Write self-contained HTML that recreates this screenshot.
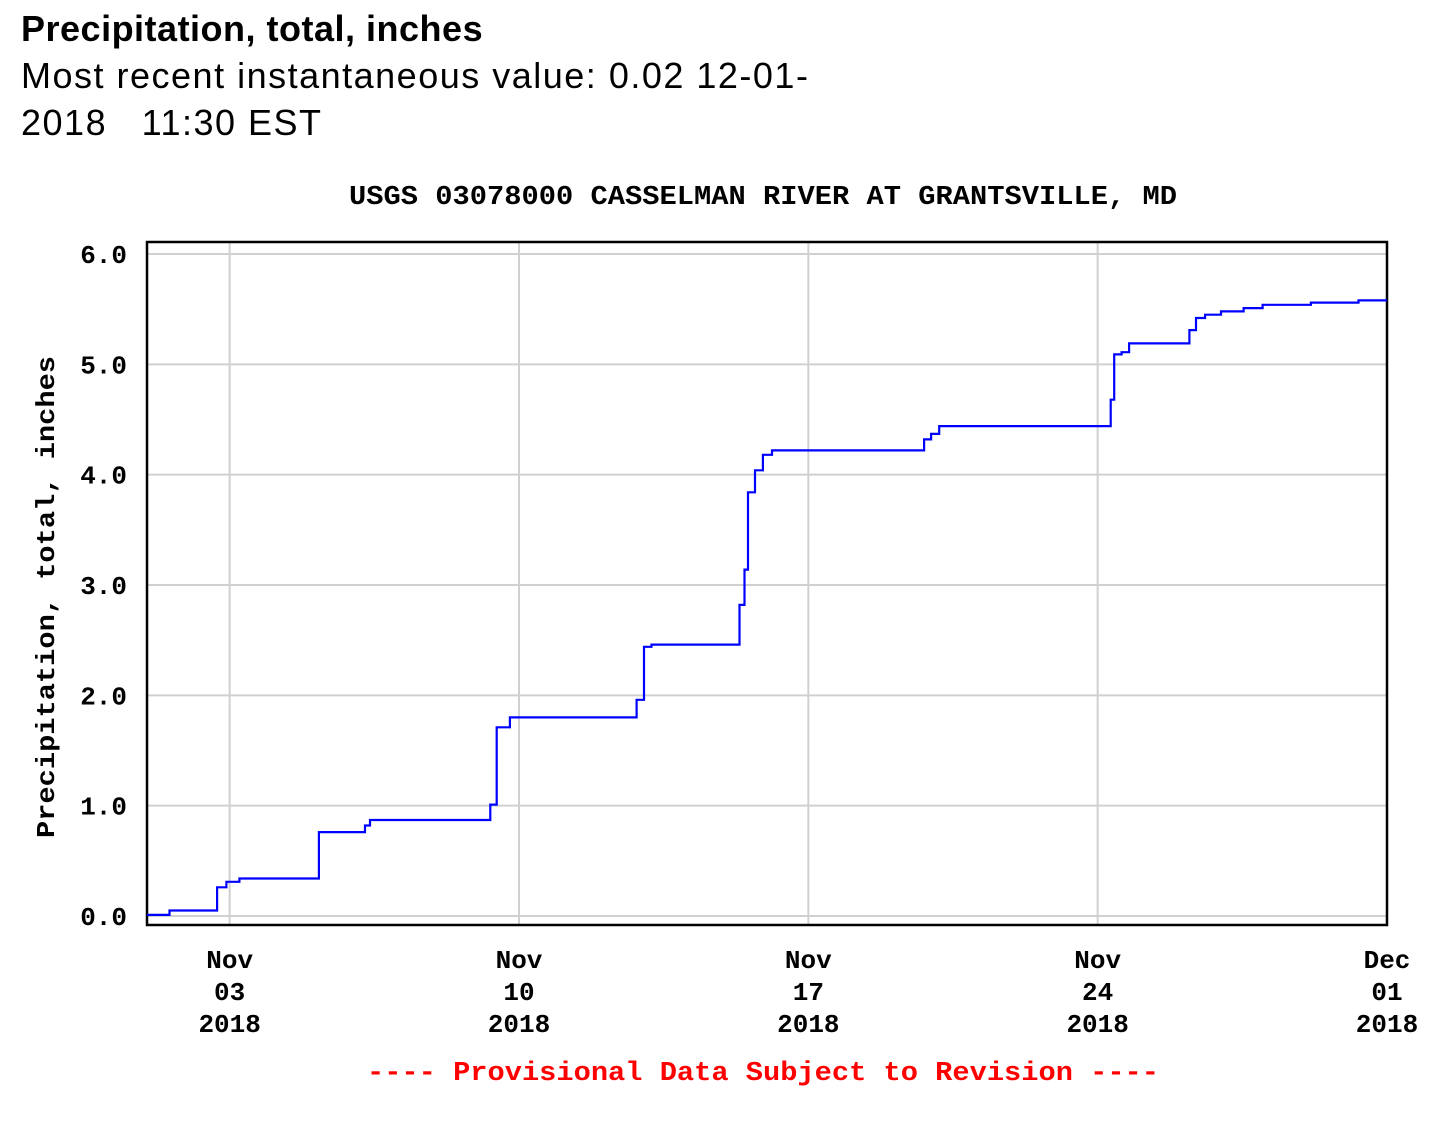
<!DOCTYPE html>
<html><head><meta charset="utf-8">
<style>
html,body{margin:0;padding:0;background:#fff;width:1437px;height:1135px;overflow:hidden}
.hdr{position:absolute;left:21px;font-family:"Liberation Sans",sans-serif;color:#000;font-size:36px;line-height:47px}
</style></head><body>
<div class="hdr" style="top:5px;font-weight:bold;letter-spacing:0.5px">Precipitation, total, inches</div>
<div class="hdr" style="top:52px;letter-spacing:1.5px">Most recent instantaneous value: 0.02 12-01-<br>2018 &nbsp; 11:30 EST</div>
<svg id="chart" width="1437" height="1135" style="position:absolute;left:0;top:0">
<g font-family="Liberation Mono, monospace" font-weight="bold">
<text x="763" y="204" font-size="27" text-anchor="middle" textLength="828" lengthAdjust="spacingAndGlyphs">USGS 03078000 CASSELMAN RIVER AT GRANTSVILLE, MD</text>
<text transform="translate(54,597) rotate(-90)" font-size="26" text-anchor="middle" textLength="482" lengthAdjust="spacingAndGlyphs">Precipitation, total, inches</text>
<text x="763" y="1080" font-size="27" fill="#ff0000" text-anchor="middle" textLength="792" lengthAdjust="spacingAndGlyphs">---- Provisional Data Subject to Revision ----</text>
</g>
<g id="grid"></g><g id="axes"></g><g id="series"></g>
</svg>
<script>
const days=[0,1.09,1.65,1.74,2.1,2.37,4.06,4.26,5.2,5.35,5.44,8.23,8.38,8.54,9.02,11.76,11.93,12.12,12.29,14.25,14.42,14.49,14.59,14.83,14.97,15.27,18.73,18.87,19.07,19.26,23.28,23.35,23.45,23.71,23.81,25.16,25.28,25.48,25.72,26.25,26.81,27.17,29.15,29.47,30];
const values=[0.01,0.05,0.05,0.26,0.31,0.34,0.34,0.76,0.76,0.82,0.87,0.87,1.01,1.71,1.80,1.80,1.96,2.44,2.46,2.46,2.82,3.14,3.84,4.04,4.18,4.22,4.22,4.32,4.37,4.44,4.44,4.68,5.09,5.11,5.19,5.19,5.31,5.42,5.45,5.48,5.51,5.54,5.56,5.58,5.58];
const yTicks=[0,1,2,3,4,5,6];
const yTickLabels=["0.0","1.0","2.0","3.0","4.0","5.0","6.0"];
const xTickDays=[2,9,16,23,30];
const xTickLabels=[["Nov","03","2018"],["Nov","10","2018"],["Nov","17","2018"],["Nov","24","2018"],["Dec","01","2018"]];
const L=147,R=1387,T=242,B=925;
const x=d=>L+d*(R-L)/30;
const y=v=>916-v*110.33;
const NS="http://www.w3.org/2000/svg";
function mk(tag,attrs,parent){const e=document.createElementNS(NS,tag);for(const k in attrs)e.setAttribute(k,attrs[k]);parent.appendChild(e);return e;}
const grid=document.getElementById('grid'),axes=document.getElementById('axes'),series=document.getElementById('series');
yTicks.forEach((v,i)=>{
  const g=mk('line',{x1:L,x2:R,y1:y(v),y2:y(v),stroke:'#d0d0d0','stroke-width':2},grid);
  
  
  const t=mk('text',{x:127,y:y(v)+9,'text-anchor':'end','font-family':'Liberation Mono, monospace','font-weight':'bold','font-size':26},axes);
  t.textContent=yTickLabels[i];
  
  
});
xTickDays.forEach((d,i)=>{
  const g=mk('line',{x1:x(d),x2:x(d),y1:T,y2:B,stroke:'#d0d0d0','stroke-width':2},grid);
  
  
  xTickLabels[i].forEach((s,j)=>{
    const t=mk('text',{x:x(d),y:968+j*32,'text-anchor':'middle','font-family':'Liberation Mono, monospace','font-weight':'bold','font-size':26},axes);
    t.textContent=s;
    
    
  });
});
const frame=mk('rect',{x:L,y:T,width:R-L,height:B-T,fill:'none',stroke:'#000','stroke-width':2.5},axes);


let pts=[];
days.forEach((d,i)=>{
  if(i>0){
    const xm=x((days[i-1]+d)/2).toFixed(1);
    pts.push(xm+','+y(values[i-1]).toFixed(1));
    pts.push(xm+','+y(values[i]).toFixed(1));
  }
  pts.push(x(d).toFixed(1)+','+y(values[i]).toFixed(1));
});
const line=mk('polyline',{points:pts.join(' '),fill:'none',stroke:'#0000ff','stroke-width':2.2},series);


</script>
</body></html>
